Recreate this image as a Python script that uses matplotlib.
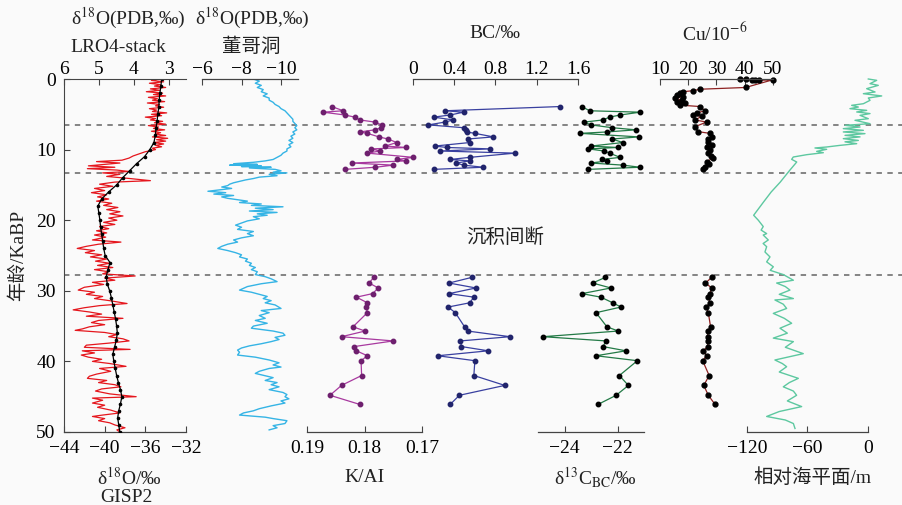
import matplotlib
matplotlib.use("Agg")
import matplotlib.pyplot as plt

plt.rcParams['font.family'] = ['Liberation Serif', 'Noto Sans CJK SC']
plt.rcParams['mathtext.fontset'] = 'stix'

# ---- GISP2 d18O (red) ----
gisp_age = [0.0, 0.2, 0.4, 0.6, 0.8, 1.0, 1.2, 1.4, 1.6, 1.8, 2.0, 2.2, 2.4, 2.6, 2.8, 3.0, 3.2, 3.4, 3.6, 3.8,
            4.0, 4.2, 4.4, 4.6, 4.8, 5.0, 5.2, 5.4, 5.6, 5.8, 6.0, 6.2, 6.4, 6.6, 6.8, 7.0, 7.2, 7.4, 7.6, 7.8,
            8.0, 8.2, 8.4, 8.6, 8.8, 9.0, 9.2, 9.4, 9.6, 9.8, 10.0, 10.3, 10.6, 10.9, 11.2, 11.5, 11.7, 11.9,
            12.1, 12.3, 12.5, 12.7, 12.9, 13.1, 13.3, 13.5, 13.8, 14.1, 14.4, 14.6, 14.9, 15.2, 15.5, 15.8,
            16.1, 16.4, 16.7, 17.0, 17.3, 17.6, 17.9, 18.2, 18.5, 18.8, 19.1, 19.4, 19.7, 20.0, 20.3, 20.6,
            20.9, 21.2, 21.5, 21.8, 22.1, 22.4, 22.8, 23.1, 23.4, 23.7, 24.0, 24.3, 24.6, 24.9, 25.2, 25.5,
            25.8, 26.1, 26.4, 26.7, 27.0, 27.3, 27.6, 27.9, 28.2, 28.5, 28.8, 29.1, 29.5, 29.9, 30.2, 30.5,
            30.8, 31.1, 31.4, 31.8, 32.1, 32.4, 32.7, 33.0, 33.3, 33.6, 33.9, 34.2, 34.5, 34.8, 35.1, 35.4,
            35.6, 35.9, 36.2, 36.5, 36.8, 37.1, 37.4, 37.7, 38.0, 38.3, 38.5, 38.8, 39.1, 39.4, 39.7, 40.0,
            40.3, 40.7, 41.0, 41.4, 41.8, 42.1, 42.4, 42.7, 43.0, 43.3, 43.6, 43.9, 44.2, 44.6, 45.0, 45.2,
            45.5, 45.9, 46.2, 46.5, 46.9, 47.3, 47.6, 47.8, 48.1, 48.4, 48.7, 49.0, 49.4, 49.7, 50.0]
gisp_d18o = [-34.6, -35.4, -34.2, -35.6, -34.5, -35.1, -34.0, -35.5, -34.6, -35.9, -34.3, -35.2, -34.0, -35.7,
             -34.8, -35.3, -34.1, -35.8, -34.6, -35.0, -34.2, -35.6, -34.9, -35.3, -33.9, -35.4, -34.4, -36.0,
             -35.0, -35.5, -34.3, -35.1, -34.0, -35.7, -34.7, -35.2, -34.1, -35.4, -34.5, -35.0, -34.0, -35.3,
             -33.8, -34.9, -34.0, -35.2, -34.2, -35.0, -34.4, -35.3, -35.0, -36.0, -36.6, -37.2, -37.6, -38.3,
             -40.8, -38.5, -40.0, -41.6, -39.0, -41.7, -38.8, -37.6, -40.2, -38.5, -39.8, -37.5, -35.5, -39.0,
             -40.5, -39.2, -41.0, -40.0, -41.3, -39.8, -40.7, -39.6, -40.8, -39.3, -40.1, -38.7, -39.8, -38.5,
             -39.5, -38.2, -39.6, -38.8, -40.1, -39.0, -40.5, -39.6, -40.8, -39.8, -41.0, -39.9, -41.2, -38.4,
             -40.6, -41.8, -42.7, -41.0, -41.9, -40.3, -41.4, -39.8, -40.9, -39.5, -40.7, -39.2, -41.0, -39.6,
             -40.2, -37.0, -40.0, -39.0, -41.2, -40.1, -42.0, -42.6, -41.0, -41.8, -40.2, -41.0, -39.5, -37.8,
             -40.5, -42.0, -43.1, -41.5, -40.3, -41.8, -38.2, -40.6, -41.3, -40.0, -41.5, -42.2, -42.9, -40.0,
             -38.8, -39.6, -38.2, -37.6, -39.5, -41.8, -42.0, -37.5, -42.2, -41.0, -42.3, -41.6, -40.3, -41.2,
             -39.5, -37.9, -40.5, -39.4, -40.8, -41.5, -41.7, -39.8, -40.6, -39.0, -38.4, -40.3, -40.9, -39.5,
             -36.9, -41.2, -40.2, -41.2, -40.0, -40.7, -39.4, -38.5, -40.2, -41.2, -40.0, -40.6, -39.5, -39.0,
             -38.0, -38.8, -38.5]

# ---- LR04 stack (black) ----
lr04_age = list(range(0, 51))
lr04_d18o = [3.20, 3.22, 3.25, 3.27, 3.28, 3.31, 3.33, 3.36, 3.38, 3.42, 3.54, 3.69, 3.92, 4.12, 4.32, 4.49,
             4.72, 4.92, 5.03, 5.00, 4.97, 4.95, 4.92, 4.89, 4.86, 4.82, 4.68, 4.74, 4.79, 4.76, 4.69, 4.64,
             4.60, 4.56, 4.52, 4.49, 4.47, 4.50, 4.55, 4.60, 4.57, 4.53, 4.49, 4.44, 4.38, 4.34, 4.38, 4.43,
             4.46, 4.43, 4.40]

# ---- Dongge cave d18O (light blue) ----
dongge_age = [0.0, 0.3, 0.6, 0.9, 1.2, 1.5, 1.8, 2.1, 2.4, 2.7, 3.0, 3.3, 3.6, 3.9, 4.2, 4.5, 4.8, 5.1, 5.4,
              5.7, 6.0, 6.3, 6.6, 6.9, 7.2, 7.5, 7.8, 8.1, 8.4, 8.7, 9.0, 9.3, 9.6, 9.9, 10.2, 10.5, 10.8,
              11.1, 11.4, 11.6, 11.8, 12.0, 12.1, 12.2, 12.3, 12.4, 12.5, 12.6, 12.8, 13.0, 13.2, 13.3, 13.5,
              13.7, 13.9, 14.1, 14.3, 14.5, 14.7, 14.9, 15.1, 15.3, 15.5, 15.7, 15.9, 16.1, 16.3, 16.5, 16.7,
              16.9, 17.1, 17.3, 17.5, 17.7, 17.9, 18.1, 18.3, 18.5, 18.7, 18.9, 19.1, 19.3, 19.5, 19.8, 20.1,
              20.4, 20.7, 21.0, 21.3, 21.6, 21.9, 22.2, 22.5, 22.8, 23.1, 23.4, 23.7, 24.0, 24.3, 24.6, 24.9,
              25.2, 25.5, 25.8, 26.1, 26.4, 26.7, 27.0, 27.3, 27.7, 28.0, 28.3, 28.7, 29.0, 29.4, 29.9, 30.2,
              30.5, 30.8, 31.1, 31.4, 31.7, 32.0, 32.5, 32.8, 33.1, 33.5, 33.9, 34.2, 34.6, 35.0, 35.3, 35.7,
              36.0, 36.3, 36.6, 36.9, 37.2, 37.5, 37.8, 38.1, 38.4, 38.7, 39.1, 39.4, 39.8, 40.2, 40.5, 40.8,
              41.0, 41.4, 41.7, 41.9, 42.3, 42.7, 43.0, 43.3, 43.6, 44.0, 44.4, 44.7, 45.0, 45.3, 45.6, 45.9,
              46.3, 46.7, 47.0, 47.3, 47.6, 47.9, 48.1, 48.4, 48.8, 49.1, 49.4, 49.7]
dongge_d18o = [-8.6, -8.9, -8.7, -9.0, -8.8, -9.1, -9.0, -9.3, -9.1, -9.4, -9.4, -9.6, -9.7, -9.9, -10.0,
               -10.2, -10.3, -10.4, -10.5, -10.6, -10.6, -10.7, -10.8, -10.7, -10.8, -10.6, -10.7, -10.5,
               -10.6, -10.4, -10.6, -10.4, -10.5, -10.3, -10.3, -10.1, -10.0, -9.8, -9.6, -9.2, -8.6, -7.6,
               -8.8, -7.4, -9.0, -8.0, -9.5, -8.4, -9.7, -10.0, -9.6, -10.3, -9.4, -9.8, -8.9, -8.6, -8.2,
               -7.9, -7.6, -7.4, -7.3, -7.0, -7.5, -6.9, -6.3, -7.2, -6.6, -7.6, -7.0, -7.3, -7.8, -8.3, -7.9,
               -9.0, -8.5, -10.1, -8.7, -9.6, -8.4, -9.8, -8.8, -9.3, -8.6, -8.9, -8.3, -8.0, -7.7, -8.0,
               -7.8, -8.6, -8.3, -8.6, -8.0, -7.6, -7.8, -7.3, -7.0, -6.8, -7.3, -7.7, -8.0, -7.9, -8.3,
               -8.2, -8.5, -8.4, -8.7, -8.5, -8.8, -8.7, -9.2, -9.5, -9.8, -9.0, -8.3, -7.9, -8.5, -8.9, -9.3,
               -9.1, -9.5, -9.2, -9.7, -10.0, -9.0, -9.4, -8.9, -9.2, -8.7, -9.3, -8.6, -8.5, -9.6, -10.1,
               -10.2, -9.7, -9.9, -9.5, -9.0, -8.4, -8.0, -7.8, -7.9, -7.8, -8.7, -9.4, -9.9, -9.6, -10.0,
               -9.4, -8.9, -8.7, -9.0, -9.6, -9.2, -9.8, -9.5, -9.9, -9.4, -10.1, -10.3, -10.2, -10.4, -10.0,
               -10.2, -9.5, -8.9, -8.6, -8.1, -7.9, -9.2, -9.6, -10.3, -10.2, -9.6, -9.8, -9.4]

# ---- sample ages for the core (upper and lower sections) ----
core_age_up = [3.9, 4.5, 4.7, 5.1, 5.4, 5.8, 6.1, 6.5, 6.9, 7.2, 7.5, 7.7, 8.2, 8.5, 9.0, 9.5, 9.7,
               9.9, 10.2, 10.5, 11.1, 11.4, 11.6, 11.9, 12.2, 12.5, 12.8]
core_age_low = [28.1, 28.9, 29.6, 30.4, 30.9, 31.7, 32.3, 33.1, 35.1, 35.7, 36.5, 37.1, 37.9, 38.5,
                39.2, 39.9, 42.0, 43.4, 44.8, 46.1]

kal_up = [0.1857, 0.1837, 0.1872, 0.1834, 0.1817, 0.1808, 0.1782, 0.1770, 0.1771, 0.1782, 0.1808,
          0.1795, 0.1775, 0.1759, 0.1744, 0.1764, 0.1727, 0.1788, 0.1773, 0.1795, 0.1715, 0.1744,
          0.1727, 0.1822, 0.1750, 0.1781, 0.1834]
kal_low = [0.1784, 0.1792, 0.1776, 0.1786, 0.1814, 0.1795, 0.1797, 0.1795, 0.1820, 0.1799, 0.1840,
           0.1750, 0.1818, 0.1814, 0.1795, 0.1806, 0.1805, 0.1840, 0.1860, 0.1808]

bc_up = [1.43, 0.31, 0.49, 0.36, 0.20, 0.39, 0.31, 0.15, 0.49, 0.51, 0.52, 0.60, 0.78, 0.53, 0.55,
         0.21, 0.33, 0.75, 0.26, 0.99, 0.55, 0.36, 0.55, 0.42, 0.49, 0.68, 0.20]
bc_low = [0.57, 0.35, 0.61, 0.35, 0.59, 0.55, 0.34, 0.41, 0.50, 0.53, 0.94, 0.46, 0.47, 0.73, 0.24,
          0.60, 0.59, 0.89, 0.45, 0.36]

d13c_up = [-23.35, -23.05, -21.15, -21.9, -22.3, -22.55, -23.25, -23.0, -22.2, -21.3, -22.4, -23.4,
           -21.2, -22.2, -21.8, -23.0, -22.0, -23.1, -22.5, -22.3, -21.9, -22.6, -22.4, -23.0, -21.8,
           -21.15, -23.1]
d13c_low = [-22.46, -22.94, -22.25, -23.34, -22.63, -22.18, -21.87, -22.81, -22.4, -21.97, -24.81,
            -22.43, -22.55, -21.68, -22.81, -21.25, -21.93, -21.59, -22.05, -22.74]

# ---- Cu (dark red) ----
cu_age_up = [0.0, 0.05, 0.1, 0.15, 0.2, 0.1, 1.2, 1.45, 1.65, 1.8, 2.05, 2.27, 2.5, 2.7, 3.0, 3.2, 3.45,
             3.7, 3.9, 4.5, 4.8, 5.1, 5.3, 5.8, 6.1, 6.75, 7.46, 7.7, 8.17, 8.5, 8.9, 9.35, 9.7, 10.06,
             10.5, 10.9, 11.2, 11.7, 12.1, 12.4, 12.8]
cu_up = [38.3, 40.6, 42.4, 43.6, 45.0, 50.0, 40.3, 24.1, 21.8, 18.2, 17.0, 15.9, 18.2, 15.3, 17.7, 15.9,
         18.8, 17.1, 24.1, 25.9, 23.0, 21.8, 24.7, 22.4, 26.5, 22.4, 23.5, 27.7, 28.3, 27.0, 27.1, 28.3,
         26.8, 27.7, 27.1, 28.0, 28.8, 26.5, 27.2, 25.9, 25.3]
cu_low = [28.3, 26.1, 28.3, 27.7, 27.1, 27.7, 26.3, 27.1, 27.9, 26.9, 26.9, 26.9, 26.9, 25.3, 26.5,
          25.1, 27.4, 25.5, 27.1, 29.5]

# ---- relative sea level (light green) ----
sea_age = [0.0, 0.19, 0.66, 0.9, 1.37, 1.84, 2.08, 2.4, 2.69, 3.02, 3.5, 3.73, 3.97, 4.2, 4.44, 4.67,
           4.9, 5.15, 5.62, 5.85, 6.33, 6.56, 6.8, 7.03, 7.27, 7.5, 7.74, 7.98, 8.2, 8.45, 8.7, 8.9,
           9.16, 9.4, 9.63, 9.77, 9.96, 10.25, 10.44, 10.72, 11.05, 11.38, 11.76, 13.0, 14.6, 16.0,
           17.5, 19.3, 20.0, 20.9, 21.4, 21.9, 22.1, 22.8, 23.3, 23.75, 24.5, 25.2, 25.9, 26.6, 27.1,
           27.7, 28.5, 28.9, 29.4, 29.9, 30.5, 31.1, 31.3, 31.9, 32.5, 33.2, 33.9, 34.6, 35.3, 36.0,
           36.7, 37.2, 38.0, 38.9, 39.8, 40.3, 40.75, 41.5, 42.4, 43.0, 43.6, 44.2, 44.8, 45.6, 46.4,
           47.1, 47.8, 48.3, 48.8, 49.5]
sea_level = [0.3, 8.6, 2.0, 10.2, -1.3, 7.0, -4.6, 13.6, 0.3, 2.0, -4.6, -16.2, -9.6, -17.9, -1.3,
             -11.2, 2.0, -7.9, 0.3, -12.9, 2.0, -22.8, -7.9, -24.5, -4.6, -24.5, -3.0, -22.8, -7.9,
             -24.5, -9.6, -22.8, -11.2, -27.8, -41.0, -52.6, -41.0, -50.9, -44.3, -60.8, -74.1, -75.7,
             -70.7, -78.0, -87.0, -96.0, -104.0, -113.4, -108.8, -103.9, -106.0, -100.5, -103.9, -98.9,
             -104.0, -100.5, -102.2, -97.2, -100.5, -93.9, -97.0, -84.0, -74.0, -90.6, -82.0, -77.4,
             -88.0, -74.0, -92.3, -84.0, -80.7, -93.9, -83.0, -75.7, -87.3, -80.0, -93.9, -74.0, -82.0,
             -64.2, -92.3, -85.0, -80.7, -88.0, -69.1, -78.0, -84.0, -74.0, -70.8, -80.0, -65.8, -88.0,
             -100.5, -82.0, -74.0, -72.4]

hiatus = [6.5, 13.3, 27.8]

W, H = 903, 505
fig = plt.figure(figsize=(W / 100, H / 100), dpi=100, facecolor='#fafafa')


def frac(x0, x1):
    return [x0 / W, 1 - 432 / H, (x1 - x0) / W, (432 - 79) / H]


def panel(x0, x1, side):
    ax = fig.add_axes(frac(x0, x1))
    ax.patch.set_alpha(0)
    ax.set_ylim(50, 0)
    for s in ['left', 'right', 'top', 'bottom']:
        ax.spines[s].set_visible(False)
    ax.spines[side].set_visible(True)
    ax.spines[side].set_color('#444444')
    ax.spines[side].set_linewidth(0.9)
    ax.tick_params(axis='y', left=False, labelleft=False)
    if side == 'top':
        ax.xaxis.tick_top()
        ax.tick_params(axis='x', direction='in', length=4, width=0.8, color='#444444',
                       labelsize=14, pad=1, top=True, bottom=False)
    else:
        ax.tick_params(axis='x', direction='in', length=4, width=0.8, color='#444444',
                       labelsize=14, pad=6)
    return ax


# overlay for the hiatus lines
ov = fig.add_axes([64 / W, 1 - 432 / H, (W - 64) / W, (432 - 79) / H])
ov.set_ylim(50, 0)
ov.set_xlim(0, 1)
ov.axis('off')
for h in hiatus:
    ov.axhline(h, color='#7a7a7a', lw=1.3, ls=(0, (3, 3)))

# panel 1: GISP2 + LR04
ax1 = panel(64, 186, 'bottom')
ax1.spines['left'].set_visible(True)
ax1.spines['left'].set_color('#444444')
ax1.tick_params(axis='y', left=True, labelleft=True, direction='in', length=4,
                labelsize=14, color='#444444', pad=6)
ax1.set_yticks([0, 10, 20, 30, 40, 50])
ax1.set_xlim(-44, -32)
ax1.set_xticks([-44, -40, -36, -32])
ax1.plot(gisp_d18o, gisp_age, color='#e5161d', lw=0.9)
ax1b = ax1.twiny()
ax1b.patch.set_alpha(0)
for s in ['left', 'right', 'bottom']:
    ax1b.spines[s].set_visible(False)
ax1b.spines['top'].set_color('#444444')
ax1b.set_xlim(6, 2.5)
ax1b.set_xticks([6, 5, 4, 3])
ax1b.tick_params(axis='x', direction='in', length=4, width=0.8, color='#444444', labelsize=14, pad=1)
ax1b.plot(lr04_d18o, lr04_age, color='black', lw=0.9, marker='o', ms=1.6)
ax1b.set_ylim(50, 0)

# panel 2: Dongge
ax2 = panel(202, 298, 'top')
ax2.set_xlim(-6, -10.86)
ax2.set_xticks([-6, -8, -10])
ax2.plot(dongge_d18o, dongge_age, color='#35b4e5', lw=1.0)

# panel 3: K/Al
ax3 = panel(307, 422, 'bottom')
ax3.set_xlim(0.19, 0.17)
ax3.set_xticks([0.19, 0.18, 0.17])
ax3.set_xticklabels(['0.19', '0.18', '0.17'])
for a, v in [(core_age_up, kal_up), (core_age_low, kal_low)]:
    ax3.plot(v, a, color='#a8399f', lw=0.9, marker='o', ms=3.2, mfc='#6e1f6e', mec='#6e1f6e')

# panel 4: BC
ax4 = panel(413, 578, 'top')
ax4.set_xlim(0, 1.6)
ax4.set_xticks([0, 0.4, 0.8, 1.2, 1.6])
ax4.set_xticklabels(['0', '0.4', '0.8', '1.2', '1.6'])
for a, v in [(core_age_up, bc_up), (core_age_low, bc_low)]:
    ax4.plot(v, a, color='#3940a0', lw=0.9, marker='o', ms=3.2, mfc='#21246c', mec='#21246c')

# panel 5: d13C
ax5 = panel(538, 644, 'bottom')
ax5.set_xlim(-25, -21)
ax5.set_xticks([-24, -22])
for a, v in [(core_age_up, d13c_up), (core_age_low, d13c_low)]:
    ax5.plot(v, a, color='#237a46', lw=0.9, marker='o', ms=3.2, mfc='black', mec='black')

# panel 6: Cu
ax6 = panel(660, 773, 'top')
ax6.set_xlim(10, 50)
ax6.set_xticks([10, 20, 30, 40, 50])
for a, v in [(cu_age_up, cu_up), (core_age_low, cu_low)]:
    ax6.plot(v, a, color='#8e2222', lw=0.9, marker='o', ms=3.5, mfc='black', mec='black', clip_on=False)

# panel 7: sea level
ax7 = panel(747, 868, 'bottom')
ax7.set_xlim(-120, 0)
ax7.set_xticks([-120, -60, 0])
ax7.plot(sea_level, sea_age, color='#5dc8a0', lw=1.0, clip_on=False)


def txt(x, y, s, **kw):
    fig.text(x / W, 1 - y / H, s, ha='center', va='center', fontsize=14, color='#222222', **kw)


txt(128, 18, r'δ$^{18}$O(PDB,‰)')
txt(118, 47, 'LRO4-stack')
txt(252, 18, r'δ$^{18}$O(PDB,‰)')
txt(251, 47, '董哥洞')
txt(495, 33, 'BC/‰')
txt(715, 33, r'Cu/10$^{-6}$')
txt(129, 478, r'δ$^{18}$O/‰')
txt(126, 498, 'GISP2')
txt(365, 478, 'K/AI')
txt(595, 478, r'δ$^{13}$C$_{\rm BC}$/‰')
txt(813, 478, '相对海平面/m')
txt(505, 238, '沉积间断')
txt(18, 255, '年龄/KaBP', rotation=90)

fig.savefig('out.png', dpi=100, facecolor=fig.get_facecolor())
